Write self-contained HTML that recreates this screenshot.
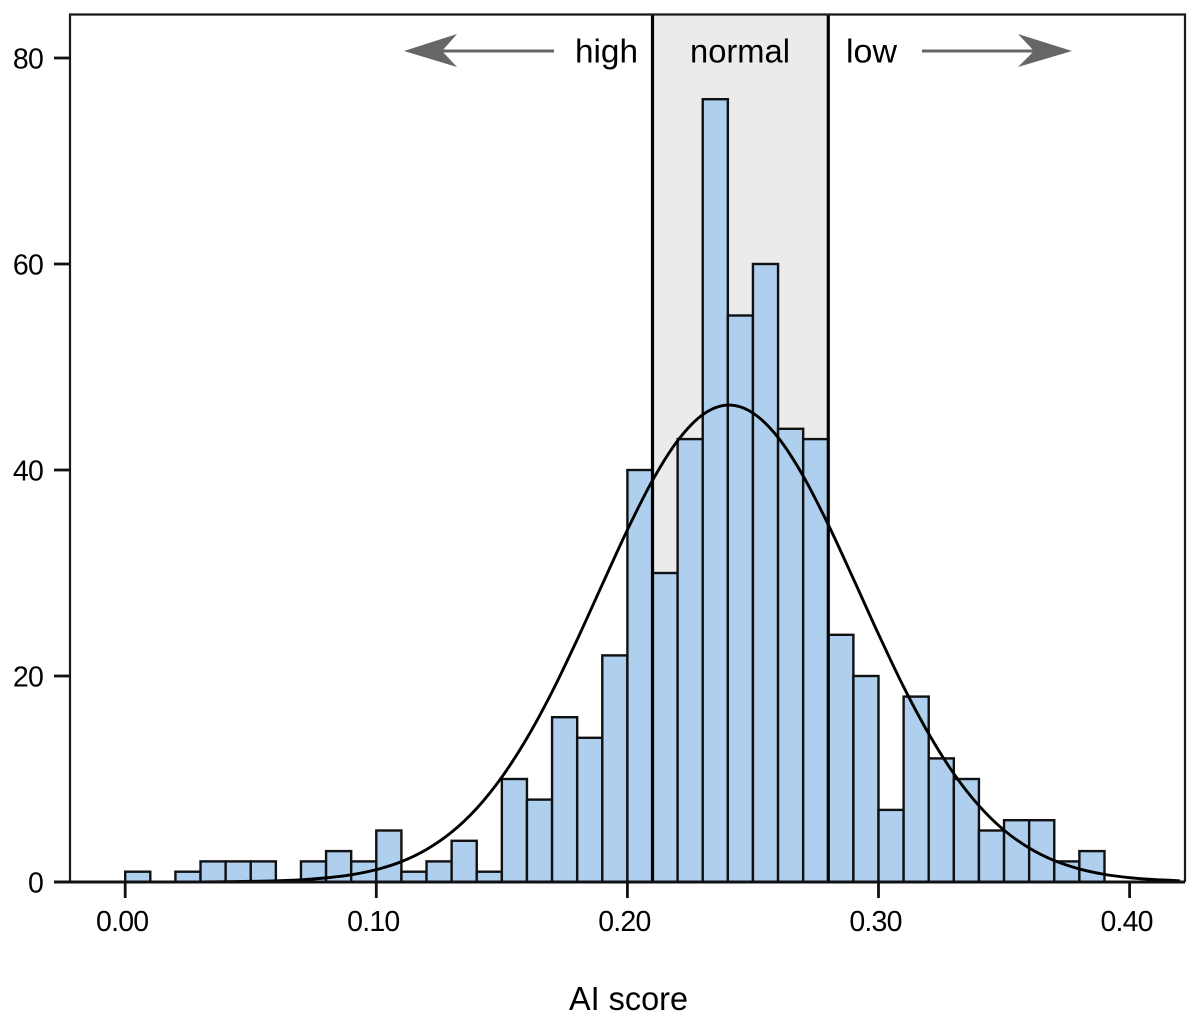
<!DOCTYPE html>
<html>
<head>
<meta charset="utf-8">
<title>AI score histogram</title>
<style>
html,body{margin:0;padding:0;background:#fff;}
svg{display:block;}
text{font-family:"Liberation Sans",sans-serif;fill:#000;}
</style>
</head>
<body>
<svg id="chart" width="1200" height="1028" viewBox="0 0 1200 1028" xmlns="http://www.w3.org/2000/svg">
  <rect x="0" y="0" width="1200" height="1028" fill="#ffffff"/>
  <g id="band-layer"></g>
  <g id="bars"></g>
  <g id="band-lines"></g>
  <g id="curve-layer"></g>
  <g id="axes"></g>
  <g>
    <line x1="554" y1="51" x2="440" y2="51" stroke="#666" stroke-width="3"/>
    <polygon points="404,51 457,34 442,51 457,67" fill="#666"/>
  </g>
  <g>
    <line x1="922" y1="51" x2="1036" y2="51" stroke="#666" stroke-width="3"/>
    <polygon points="1072,51 1018,34 1034,51 1018,67" fill="#666"/>
  </g>
  <text x="575" y="62.5" font-size="33" textLength="63" lengthAdjust="spacingAndGlyphs">high</text>
  <text x="690" y="62.5" font-size="33" textLength="100" lengthAdjust="spacingAndGlyphs">normal</text>
  <text x="846" y="62.5" font-size="33" textLength="51" lengthAdjust="spacingAndGlyphs">low</text>
  <text x="569" y="1010" font-size="33" textLength="119" lengthAdjust="spacingAndGlyphs">AI score</text>
</svg>
<script>
var binStarts = [0.00,0.01,0.02,0.03,0.04,0.05,0.06,0.07,0.08,0.09,0.10,0.11,0.12,0.13,0.14,0.15,0.16,0.17,0.18,0.19,0.20,0.21,0.22,0.23,0.24,0.25,0.26,0.27,0.28,0.29,0.30,0.31,0.32,0.33,0.34,0.35,0.36,0.37,0.38];
var binCounts = [1,0,1,2,2,2,0,2,3,2,5,1,2,4,1,10,8,16,14,22,40,30,43,76,55,60,44,43,24,20,7,18,12,10,5,6,6,2,3];
var binWidth = 0.01;
var curveScores = [0.00,0.01,0.02,0.03,0.04,0.05,0.06,0.07,0.08,0.09,0.10,0.11,0.12,0.13,0.14,0.15,0.16,0.17,0.18,0.19,0.20,0.21,0.22,0.23,0.24,0.25,0.26,0.27,0.28,0.29,0.30,0.31,0.32,0.33,0.34,0.35,0.36,0.37,0.38,0.39,0.40,0.41,0.42];
var curveValues = [0,0,0,0.01,0.03,0.06,0.11,0.21,0.40,0.70,1.20,1.98,3.16,4.84,7.15,10.19,13.97,18.46,23.53,28.89,34.19,38.99,42.84,45.37,46.30,45.53,43.16,39.42,34.69,29.43,24.06,18.95,14.39,10.52,7.41,5.03,3.30,2.08,1.27,0.74,0.42,0.23,0.12];
var xTicks = [0.00,0.10,0.20,0.30,0.40];
var xTickLabels = ["0.00","0.10","0.20","0.30","0.40"];
var yTicks = [0,20,40,60,80];
var yTickLabels = ["0","20","40","60","80"];
var normalRange = [0.21,0.28];

var NS = "http://www.w3.org/2000/svg";
function xScale(v){ return 125.2 + v * 2511; }
function yScale(v){ return 882 - v * 10.3; }
var plotLeft = 70, plotRight = 1185, plotTop = 14.5, plotBottom = 882;

function make(tag, attrs, parent){
  var el = document.createElementNS(NS, tag);
  for (var k in attrs) el.setAttribute(k, attrs[k]);
  parent.appendChild(el);
  return el;
}

/* normal range band */
var bandLayer = document.getElementById("band-layer");
var band = make("rect", {x:xScale(normalRange[0]), y:plotTop, width:xScale(normalRange[1])-xScale(normalRange[0]), height:plotBottom-plotTop, fill:"#ebebeb"}, bandLayer);



/* bars */
var barsLayer = document.getElementById("bars");
binCounts.forEach(function(c, i){
  if (c <= 0) return;
  var x0 = xScale(binStarts[i]), x1 = xScale(binStarts[i] + binWidth);
  var bar = make("rect", {x:x0, y:yScale(c), width:x1-x0, height:yScale(0)-yScale(c), fill:"#aed0ee", stroke:"#111", "stroke-width":2.4}, barsLayer);
  
  
});

/* band edges */
var linesLayer = document.getElementById("band-lines");
normalRange.forEach(function(v){
  var ln = make("line", {x1:xScale(v), x2:xScale(v), y1:plotTop, y2:plotBottom, stroke:"#000", "stroke-width":3.2}, linesLayer);
  
  
});

/* curve: Catmull-Rom through samples */
var pts = curveScores.map(function(s, i){ return [xScale(s), yScale(curveValues[i])]; });
var d = "M" + pts[0][0] + " " + pts[0][1];
for (var i = 0; i < pts.length - 1; i++){
  var p0 = pts[Math.max(i-1,0)], p1 = pts[i], p2 = pts[i+1], p3 = pts[Math.min(i+2,pts.length-1)];
  d += " C" + (p1[0]+(p2[0]-p0[0])/6) + " " + (p1[1]+(p2[1]-p0[1])/6) + " " +
       (p2[0]-(p3[0]-p1[0])/6) + " " + (p2[1]-(p3[1]-p1[1])/6) + " " + p2[0] + " " + p2[1];
}
var curve = make("path", {d:d, fill:"none", stroke:"#000", "stroke-width":2.9, "stroke-linejoin":"round"}, document.getElementById("curve-layer"));



/* axes */
var axes = document.getElementById("axes");
var frame = make("path", {d:"M"+plotLeft+" "+plotBottom+" V"+plotTop+" H"+plotRight+" V"+plotBottom, fill:"none", stroke:"#1a1a1a", "stroke-width":2.2}, axes);


var baseline = make("line", {x1:54, x2:plotRight, y1:plotBottom, y2:plotBottom, stroke:"#111", "stroke-width":3}, axes);



xTicks.forEach(function(v, i){
  var t = make("line", {x1:xScale(v), x2:xScale(v), y1:plotBottom, y2:898, stroke:"#111", "stroke-width":2.8}, axes);
  
  
  var lab = make("text", {x:xScale(v)-3, y:931, "text-anchor":"middle", "font-size":28.5, "letter-spacing":"-0.8"}, axes);
  lab.textContent = xTickLabels[i];
  
  
});
yTicks.forEach(function(v, i){
  var t = make("line", {x1:54, x2:plotLeft, y1:yScale(v), y2:yScale(v), stroke:"#111", "stroke-width":2.8}, axes);
  
  
  var lab = make("text", {x:43, y:yScale(v)+10.5, "text-anchor":"end", "font-size":28.5, "letter-spacing":"-0.8"}, axes);
  lab.textContent = yTickLabels[i];
  
  
});
</script>
</body>
</html>
